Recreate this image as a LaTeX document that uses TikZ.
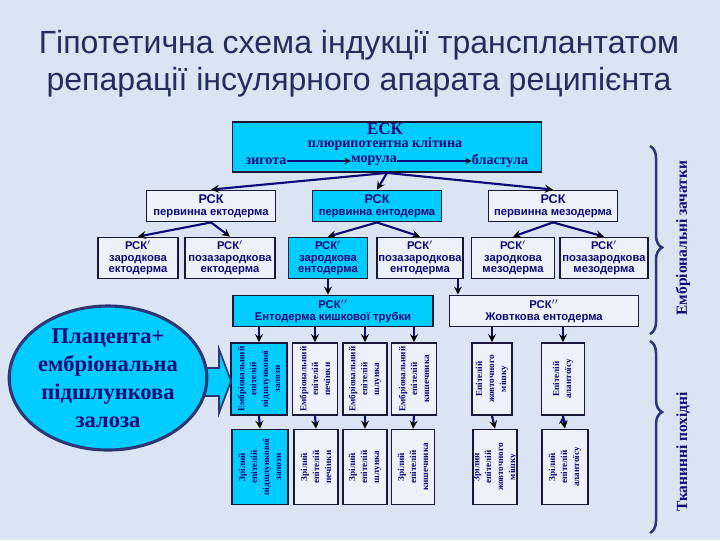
\documentclass[tikz,border=0pt]{standalone}
\usepackage{fontspec}
\setmainfont{Liberation Serif}
\setsansfont{Liberation Sans}
\usepackage{tikz}
\usetikzlibrary{shapes,arrows,calc,positioning,decorations.pathreplacing}
\definecolor{bg}{RGB}{219,228,242}
\definecolor{cyanfill}{RGB}{0,204,255}
\definecolor{pale}{RGB}{236,241,250}
\definecolor{navy}{RGB}{10,10,120}
\definecolor{ttl}{RGB}{36,46,92}
\definecolor{edgec}{RGB}{25,25,55}
\definecolor{brc}{RGB}{45,55,115}
\tikzset{box/.style={draw=edgec, line width=1.3pt, fill=pale, text=navy, align=center, inner sep=1pt, font=\sffamily\bfseries\fontsize{8}{8.4}\selectfont}}
\tikzstyle{cbox}=[box, fill=cyanfill]
\tikzstyle{vbox}=[box, rotate=90, inner sep=0pt, font=\rmfamily\bfseries\fontsize{6.5}{8.5}\selectfont]
\tikzstyle{esktxt}=[text=navy, inner sep=0pt, font=\rmfamily\bfseries\fontsize{10}{10}\selectfont]
\tikzstyle{sidelbl}=[text=navy, rotate=90, font=\rmfamily\bfseries\fontsize{11}{12}\selectfont]
\tikzstyle{arr}=[->, draw=navy, line width=1.5pt]
\tikzstyle{brace}=[draw=brc, line width=1.8pt, decorate]

\begin{document}
\begin{tikzpicture}[x=0.025cm, y=-0.025cm, >=stealth]
\useasboundingbox (0,0) rectangle (720,540);
\fill[bg] (0,0) rectangle (720,540);

\node[text=ttl, align=center, font=\sffamily\fontsize{22.8}{26.5}\selectfont] (title) at (359,64)
  {Гіпотетична схема індукції трансплантатом\\репарації інсулярного апарата реципієнта};

\node[cbox, minimum width=7.725cm, minimum height=1.25cm] (esk) at (387,147) {};
\node[esktxt, font=\rmfamily\bfseries\fontsize{12}{12}\selectfont] (eskname) at (385,129) {ЕСК};
\node[esktxt] (plur) at (385,144) {плюрипотентна клітина};
\node[esktxt] (zyg) at (266,161) {зигота};
\node[esktxt] (mor) at (374,161) {морула};
\node[esktxt] (bla) at (500,161) {бластула};
\path[->, draw=navy, line width=1pt] (zyg) edge (mor)
      (mor) edge (bla);

\node[box, minimum width=3.225cm, minimum height=0.775cm] (ekt) at (211,206) {\fontsize{9}{9}\selectfont РСК\\первинна ектодерма};
\node[cbox, minimum width=3.225cm, minimum height=0.775cm] (ent) at (377,206) {\fontsize{9}{9}\selectfont РСК\\первинна ентодерма};
\node[box, minimum width=3.225cm, minimum height=0.775cm] (mez) at (553,206) {\fontsize{9}{9}\selectfont РСК\\первинна мезодерма};

\node[box, minimum width=2cm, minimum height=1.025cm] (zekt) at (138,258) {РСК$^{\prime}$\\зародкова\\ектодерма};
\node[box, minimum width=2.25cm, minimum height=1.025cm] (pekt) at (230,258) {РСК$^{\prime}$\\позазародкова\\ектодерма};
\node[cbox, minimum width=1.975cm, minimum height=1.025cm] (zent) at (328,258) {РСК$^{\prime}$\\зародкова\\ентодерма};
\node[box, minimum width=2.15cm, minimum height=1.025cm] (pent) at (420,258) {РСК$^{\prime}$\\позазародкова\\ентодерма};
\node[box, minimum width=2.075cm, minimum height=1.025cm] (zmez) at (513,258) {РСК$^{\prime}$\\зародкова\\мезодерма};
\node[box, minimum width=2.2cm, minimum height=1.025cm] (pmez) at (604,258) {РСК$^{\prime}$\\позазародкова\\мезодерма};

\node[cbox, minimum width=5cm, minimum height=0.775cm] (kt) at (333,311) {РСК$^{\prime\prime}$\\Ентодерма кишкової трубки};
\node[box, minimum width=4.725cm, minimum height=0.775cm] (zhe) at (544,311) {РСК$^{\prime\prime}$\\Жовткова ентодерма};

\node[vbox, fill=cyanfill, minimum width=1.8cm, minimum height=1.4cm] (epz) at (259,379) {Ембріональний\\епітелій\\підшлункової\\залози};
\node[vbox, minimum width=1.8cm, minimum height=1.125cm] (epp) at (315,379) {Ембріональний\\епітелій\\печінки};
\node[vbox, minimum width=1.8cm, minimum height=1.1cm] (eps) at (365,379) {Ембріональний\\епітелій\\шлунка};
\node[vbox, minimum width=1.8cm, minimum height=1.125cm] (epk) at (414,379) {Ембріональний\\епітелій\\кишечника};
\node[vbox, minimum width=1.8cm, minimum height=1.0cm] (epm) at (492,379) {Епітелій\\жовточного\\мішку};
\node[vbox, minimum width=1.8cm, minimum height=1.075cm] (epa) at (563,379) {Епітелій\\алантоїсу};

\node[vbox, fill=cyanfill, minimum width=1.875cm, minimum height=1.4cm] (zpz) at (260,467) {Зрілий\\епітелій\\підшлункової\\залози};
\node[vbox, minimum width=1.875cm, minimum height=1.1cm] (zpp) at (316,467) {Зрілий\\епітелій\\печінки};
\node[vbox, minimum width=1.875cm, minimum height=1.1cm] (zps) at (365,467) {Зрілий\\епітелій\\шлунка};
\node[vbox, minimum width=1.875cm, minimum height=1.075cm] (zpk) at (413,467) {Зрілий\\епітелій\\кишечника};
\node[vbox, minimum width=1.875cm, minimum height=1.1cm] (zpm) at (495,467) {Зрілий\\епітелій\\жовточного\\мішку};
\node[vbox, minimum width=1.875cm, minimum height=1.15cm] (zpa) at (565,467) {Зрілий\\епітелій\\алантоїсу};

\draw[draw=brc, fill=cyanfill, line width=1.2pt] (192,368) -- (219,368) -- (219,349) -- (231,381) -- (219,413) -- (219,396) -- (192,396) -- cycle;
\node[ellipse, draw=brc, line width=2.2pt, fill=cyanfill, text=navy, align=center, minimum width=4.5cm, minimum height=3.6cm, inner sep=0pt,
  font=\rmfamily\bfseries\fontsize{16}{20}\selectfont] (plac) at (108,378) {Плацента+\\ембріональна\\підшлункова\\залоза};

\path[arr] (esk.south) edge (ekt.north)
      (esk.south) edge (ent.north)
      (esk.south) edge (mez.north)
   (ekt.south) edge (zekt.north)
      (ekt.south) edge (pekt.north)
   (ent.south) edge (zent.north)
      (ent.south) edge (pent.north)
   (mez.south) edge (zmez.north)
      (mez.south) edge (pmez.north)
   (zent.south) edge (zent.south |- kt.north)
   ([xshift=-0.15cm]pent.south east) edge ([xshift=-0.15cm]pent.south east |- zhe.north)
   (kt.south -| epz.east) edge (epz.east)
   (kt.south -| epp.east) edge (epp.east)
   (kt.south -| eps.east) edge (eps.east)
   (kt.south -| epk.east) edge (epk.east)
   (zhe.south -| epm.east) edge (epm.east)
   (zhe.south -| epa.east) edge (epa.east)
   (epz.west) edge (zpz.east)
   (epp.west) edge (zpp.east)
   (eps.west) edge (zps.east)
   (epk.west) edge (zpk.east)
   (epm.west) edge (zpm.east)
   (epa.west) edge (zpa.east)
;

\coordinate (br1a) at (650,146);
\coordinate (br1b) at (650,334);
\coordinate (br2a) at (650,341);
\coordinate (br2b) at (650,533);
\draw[brace, decoration={brace, amplitude=0.3cm, aspect=0.54}] (br1a) -- (br1b);
\draw[brace, decoration={brace, amplitude=0.3cm, aspect=0.37}] (br2a) -- (br2b);
\node[sidelbl] (emb) at (683,238) {Ембріональні зачатки};
\node[sidelbl] (tkn) at (683,452) {Тканинні похідні};
\end{tikzpicture}
\end{document}
